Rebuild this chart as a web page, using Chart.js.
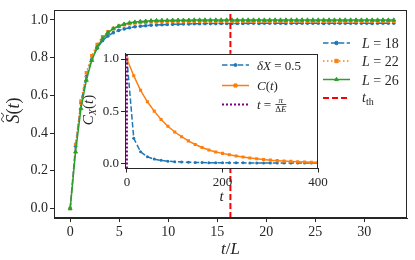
<!DOCTYPE html>
<html>
<head>
<meta charset="utf-8">
<script src="https://cdn.jsdelivr.net/npm/chart.js@4.4.1/dist/chart.umd.min.js"></script>
<style>
  html, body { margin: 0; padding: 0; background: #fff; }
  #wrap { position: relative; width: 415px; height: 260px; }
  #main { position: absolute; left: 0; top: 0; }
  #inset { position: absolute; left: 80px; top: 44px; }
</style>
</head>
<body>
<div id="wrap">
  <canvas id="main" width="415" height="260"></canvas>
  <canvas id="inset" width="255" height="160"></canvas>
</div>
<script>
// main panel: t/L grid and S(t) for three sizes
const tL = [0, 0.55, 1.1, 1.65, 2.2, 2.75, 3.3, 3.85, 4.4, 4.95, 5.5, 6.05, 6.6, 7.15, 7.7, 8.25,
    8.8, 9.35, 9.9, 10.45, 11, 11.55, 12.1, 12.65, 13.2, 13.75, 14.3, 14.85, 15.4, 15.95, 16.5,
    17.05, 17.6, 18.15, 18.7, 19.25, 19.8, 20.35, 20.9, 21.45, 22, 22.55, 23.1, 23.65, 24.2, 24.75,
    25.3, 25.85, 26.4, 26.95, 27.5, 28.05, 28.6, 29.15, 29.7, 30.25, 30.8, 31.35, 31.9, 32.45, 33];
const sL18 = [0, 0.33, 0.56, 0.70, 0.79, 0.85, 0.89, 0.915, 0.932, 0.944, 0.952, 0.958, 0.963, 0.966,
    0.969, 0.971, 0.973, 0.974, 0.975, 0.976, 0.977, 0.978, 0.978, 0.979, 0.979, 0.98, 0.98, 0.98,
    0.981, 0.981, 0.981, 0.981, 0.981, 0.982, 0.982, 0.981, 0.982, 0.982, 0.982, 0.982, 0.981, 0.982,
    0.982, 0.982, 0.982, 0.982, 0.982, 0.981, 0.982, 0.982, 0.982, 0.982, 0.982, 0.982, 0.982, 0.982,
    0.981, 0.982, 0.982, 0.982, 0.982];
const sL22 = [0, 0.34, 0.57, 0.72, 0.81, 0.87, 0.91, 0.937, 0.954, 0.966, 0.974, 0.979, 0.983, 0.985,
    0.987, 0.988, 0.989, 0.99, 0.99, 0.991, 0.991, 0.991, 0.991, 0.992, 0.992, 0.992, 0.992, 0.992,
    0.992, 0.992, 0.992, 0.992, 0.992, 0.992, 0.992, 0.992, 0.992, 0.992, 0.992, 0.992, 0.992, 0.992,
    0.992, 0.992, 0.992, 0.992, 0.992, 0.992, 0.992, 0.992, 0.992, 0.992, 0.992, 0.992, 0.992, 0.992,
    0.992, 0.992, 0.992, 0.992, 0.992];
const sL26 = [0, 0.30, 0.53, 0.68, 0.785, 0.855, 0.90, 0.932, 0.953, 0.967, 0.977, 0.984, 0.988, 0.991,
    0.993, 0.995, 0.996, 0.997, 0.997, 0.998, 0.998, 0.998, 0.998, 0.999, 0.999, 0.999, 0.999, 0.999,
    0.999, 0.999, 0.999, 0.999, 0.999, 0.999, 0.999, 0.999, 0.999, 0.999, 0.999, 0.999, 0.999, 0.999,
    0.999, 0.999, 0.999, 0.999, 0.999, 0.999, 0.999, 0.999, 0.999, 0.999, 0.999, 0.999, 0.999, 0.999,
    0.999, 0.999, 0.999, 0.999, 0.999];
const tTh = 16.34;
const mainXTicks = [0, 5, 10, 15, 20, 25, 30];
const mainYTicks = [0, 0.2, 0.4, 0.6, 0.8, 1.0];

// inset: correlation functions vs t
const tIn = [0, 14.3, 28.6, 42.9, 57.2, 71.5, 85.8, 100.1, 114.4, 128.7, 143, 157.3, 171.6, 185.9,
    200.2, 214.5, 228.8, 243.1, 257.4, 271.7, 286, 300.3, 314.6, 328.9, 343.2, 357.5, 371.8, 386.1, 400.4];
const cxDX = [1.0, 0.24, 0.11, 0.062, 0.04, 0.028, 0.02, 0.015, 0.012, 0.01, 0.008, 0.007, 0.006,
    0.005, 0.005, 0.004, 0.004, 0.004, 0.003, 0.003, 0.003, 0.003, 0.003, 0.003, 0.002, 0.002, 0.002,
    0.002, 0.002];
const cT = [1.0, 0.84, 0.70, 0.59, 0.50, 0.42, 0.355, 0.30, 0.255, 0.215, 0.18, 0.152, 0.128, 0.108,
    0.095, 0.082, 0.07, 0.06, 0.051, 0.043, 0.036, 0.03, 0.025, 0.021, 0.018, 0.015, 0.012, 0.01, 0.009];
const tPi = 0;
const insetXTicks = [0, 200, 400];
const insetYTicks = [0, 0.5, 1.0];

const SERIF = '"Liberation Serif", "DejaVu Serif", serif';
const INK = '#262626';
const BLUE = '#1f77b4', ORANGE = '#ff7f0e', GREEN = '#2ca02c', RED = '#ff0000', PURPLE = '#800080';

const pts = (xs, ys) => xs.map((x, i) => ({ x: x, y: ys[i] }));
const fixTicks = list => scale => { scale.ticks = list.map(v => ({ value: v })); };

// draw a run of text pieces [text, font, dy]
function runs(ctx, x, y, parts, center) {
    let w = 0;
    parts.forEach(p => { ctx.font = p[1]; w += ctx.measureText(p[0]).width; });
    let cx = center ? x - w / 2 : x;
    ctx.textAlign = 'left';
    ctx.textBaseline = 'alphabetic';
    ctx.fillStyle = INK;
    parts.forEach(p => {
        ctx.font = p[1];
        ctx.fillText(p[0], cx, y + (p[2] || 0));
        cx += ctx.measureText(p[0]).width;
    });
    return w;
}

function handle(ctx, x1, x2, y, color, dash, lw, marker, r) {
    ctx.save();
    ctx.strokeStyle = color;
    ctx.lineWidth = lw;
    ctx.setLineDash(dash);
    ctx.beginPath();
    ctx.moveTo(x1, y);
    ctx.lineTo(x2, y);
    ctx.stroke();
    ctx.setLineDash([]);
    if (marker) {
        ctx.fillStyle = color;
        ctx.strokeStyle = color;
        ctx.lineWidth = 1;
        Chart.helpers.drawPoint(ctx, { pointStyle: marker, radius: r, borderWidth: 1 }, (x1 + x2) / 2, y);
    }
    ctx.restore();
}

function frame(ctx, a) {
    ctx.save();
    ctx.strokeStyle = INK;
    ctx.lineWidth = 1;
    ctx.strokeRect(Math.round(a.left) + 0.5, Math.round(a.top) + 0.5,
        Math.round(a.right - a.left) - 1, Math.round(a.bottom - a.top) - 1);
    ctx.restore();
}

function axisOpts(min, max, ticks, size, fmt, fit) {
    return {
        type: 'linear', min: min, max: max,
        afterBuildTicks: fixTicks(ticks),
        afterFit: fit,
        grid: { drawOnChartArea: false, drawTicks: true, tickLength: 4, color: INK, lineWidth: 1 },
        border: { display: true, color: INK, width: 1 },
        ticks: { color: INK, padding: 2, autoSkip: false, maxRotation: 0,
            font: { family: SERIF, size: size }, callback: fmt }
    };
}

const mainDecor = {
    id: 'mainDecor',
    afterDraw(chart) {
        const ctx = chart.ctx;
        frame(ctx, chart.chartArea);
        const it = 'italic 14px ' + SERIF, up = '14px ' + SERIF;
        const x1 = 323, x2 = 350, tx = 362;
        handle(ctx, x1, x2, 43, BLUE, [5.5, 2.4], 1.5, 'circle', 1.8);
        runs(ctx, tx, 48, [['L', it], [' = 18', up]]);
        handle(ctx, x1, x2, 61, ORANGE, [1.5, 2.5], 1.5, 'rect', 2.4);
        runs(ctx, tx, 66, [['L', it], [' = 22', up]]);
        handle(ctx, x1, x2, 79.5, GREEN, [], 1.5, 'triangle', 2.2);
        runs(ctx, tx, 84.5, [['L', it], [' = 26', up]]);
        handle(ctx, x1, x2, 98, RED, [6, 3], 2, null, 0);
        runs(ctx, tx, 102, [['t', it], ['th', '10px ' + SERIF, 3]]);

        // axis titles
        runs(ctx, 230.5, 254, [['t', 'italic 17px ' + SERIF], ['/', '17px ' + SERIF], ['L', 'italic 17px ' + SERIF]], true);
        ctx.save();
        ctx.translate(13, 110.5);
        ctx.rotate(-Math.PI / 2);
        ctx.font = 'italic 18px ' + SERIF;
        const sw = ctx.measureText('S').width;
        const w = runs(ctx, 0, 6, [['S', 'italic 18px ' + SERIF], ['(', '18px ' + SERIF],
            ['t', 'italic 18px ' + SERIF], [')', '18px ' + SERIF]], true);
        const cx = -w / 2 + sw / 2 + 1.5, cy = -10.5;
        ctx.strokeStyle = INK;
        ctx.lineWidth = 1;
        ctx.beginPath();
        ctx.moveTo(cx - 4.5, cy + 1.5);
        ctx.bezierCurveTo(cx - 3, cy - 2, cx - 1, cy - 1, cx, cy);
        ctx.bezierCurveTo(cx + 1, cy + 1, cx + 3, cy + 2, cx + 4.5, cy - 1.5);
        ctx.stroke();
        ctx.restore();
    }
};

new Chart(document.getElementById('main'), {
    type: 'line',
    data: {
        datasets: [
            { data: [{ x: tTh, y: -0.05 }, { x: tTh, y: 1.05 }], borderColor: RED, borderWidth: 2,
              borderDash: [6, 3], pointRadius: 0, order: 0 },
            { data: pts(tL, sL26), borderColor: GREEN, backgroundColor: GREEN, borderWidth: 1.5,
              pointStyle: 'triangle', pointRadius: 2.2, pointBorderWidth: 1, order: 1 },
            { data: pts(tL, sL22), borderColor: ORANGE, backgroundColor: ORANGE, borderWidth: 1.5,
              borderDash: [1.5, 2.5], pointStyle: 'rect', pointRadius: 2.4, pointBorderWidth: 0, order: 2 },
            { data: pts(tL, sL18), borderColor: BLUE, backgroundColor: BLUE, borderWidth: 1.5,
              borderDash: [5.5, 2.4], pointStyle: 'circle', pointRadius: 1.8, pointBorderWidth: 0, order: 3 }
        ]
    },
    options: {
        responsive: false, animation: false, devicePixelRatio: 1,
        layout: { padding: { left: 0, right: 8, top: 3, bottom: 0 } },
        plugins: { legend: { display: false }, tooltip: { enabled: false } },
        elements: { line: { tension: 0 } },
        scales: {
            x: axisOpts(-1.65, 34.35, mainXTicks, 14, v => String(v), s => { s.height = 42; }),
            y: axisOpts(-0.05, 1.05, mainYTicks, 14, v => Number(v).toFixed(1), s => { s.width = 54; })
        }
    },
    plugins: [mainDecor]
});

const insetDecor = {
    id: 'insetDecor',
    beforeDraw(chart) {
        const a = chart.chartArea, ctx = chart.ctx;
        ctx.save();
        ctx.fillStyle = '#fff';
        ctx.fillRect(a.left, a.top, a.right - a.left, a.bottom - a.top);
        ctx.restore();
    },
    afterDraw(chart) {
        const ctx = chart.ctx;
        frame(ctx, chart.chartArea);
        const ox = 80, oy = 44;
        const it = 'italic 13px ' + SERIF, up = '13px ' + SERIF;
        const x1 = 222 - ox, x2 = 249 - ox, tx = 257 - ox;
        handle(ctx, x1, x2, 65 - oy, BLUE, [5.5, 2.4], 1.5, 'circle', 1.5);
        runs(ctx, tx, 69.5 - oy, [['δX', it], [' = 0.5', up]]);
        handle(ctx, x1, x2, 85.5 - oy, ORANGE, [], 1.5, 'rect', 2.2);
        runs(ctx, tx, 90 - oy, [['C', it], ['(', up], ['t', it], [')', up]]);
        handle(ctx, x1, x2, 104.5 - oy, PURPLE, [2, 2], 2, null, 0);
        const w = runs(ctx, tx, 109 - oy, [['t', it], [' = ', up]]);
        // fraction pi / Delta E
        const fx = tx + w + 1, fy = 104.5 - oy;
        ctx.font = 'italic 9px ' + SERIF;
        const dw = ctx.measureText('ΔE').width;
        runs(ctx, fx + dw / 2, fy - 1.5, [['π', 'italic 9px ' + SERIF]], true);
        runs(ctx, fx + dw / 2, fy + 7.5, [['Δ', '9px ' + SERIF], ['E', 'italic 9px ' + SERIF]], true);
        ctx.fillStyle = INK;
        ctx.fillRect(fx, fy - 0.5, dw, 0.8);

        // axis titles
        runs(ctx, 221.5 - ox, 201 - oy, [['t', 'italic 15px ' + SERIF]], true);
        ctx.save();
        ctx.translate(88 - ox, 110 - oy);
        ctx.rotate(-Math.PI / 2);
        runs(ctx, 0, 5, [['C', 'italic 15px ' + SERIF], ['X', 'italic 10px ' + SERIF, 3],
            ['(', '15px ' + SERIF], ['t', 'italic 15px ' + SERIF], [')', '15px ' + SERIF]], true);
        ctx.restore();
    }
};

new Chart(document.getElementById('inset'), {
    type: 'line',
    data: {
        datasets: [
            { data: [{ x: tPi, y: -0.05 }, { x: tPi, y: 1.05 }], borderColor: PURPLE, borderWidth: 2,
              borderDash: [2, 2], pointRadius: 0, order: 0 },
            { data: pts(tIn, cT), borderColor: ORANGE, backgroundColor: ORANGE, borderWidth: 1.5,
              pointStyle: 'rect', pointRadius: 2.2, pointBorderWidth: 0, order: 1 },
            { data: pts(tIn, cxDX), borderColor: BLUE, backgroundColor: BLUE, borderWidth: 1.5,
              borderDash: [5.5, 2.4], pointStyle: 'circle', pointRadius: 1.5, pointBorderWidth: 0, order: 2 }
        ]
    },
    options: {
        responsive: false, animation: false, devicePixelRatio: 1,
        layout: { padding: { left: 0, right: 17, top: 5.5, bottom: 0 } },
        plugins: { legend: { display: false }, tooltip: { enabled: false } },
        elements: { line: { tension: 0 } },
        scales: {
            x: axisOpts(-4, 400, insetXTicks, 13, v => String(v), s => { s.height = 35.5; }),
            y: axisOpts(-0.05, 1.05, insetYTicks, 13, v => Number(v).toFixed(1), s => { s.width = 45; })
        }
    },
    plugins: [insetDecor]
});
</script>
</body>
</html>
